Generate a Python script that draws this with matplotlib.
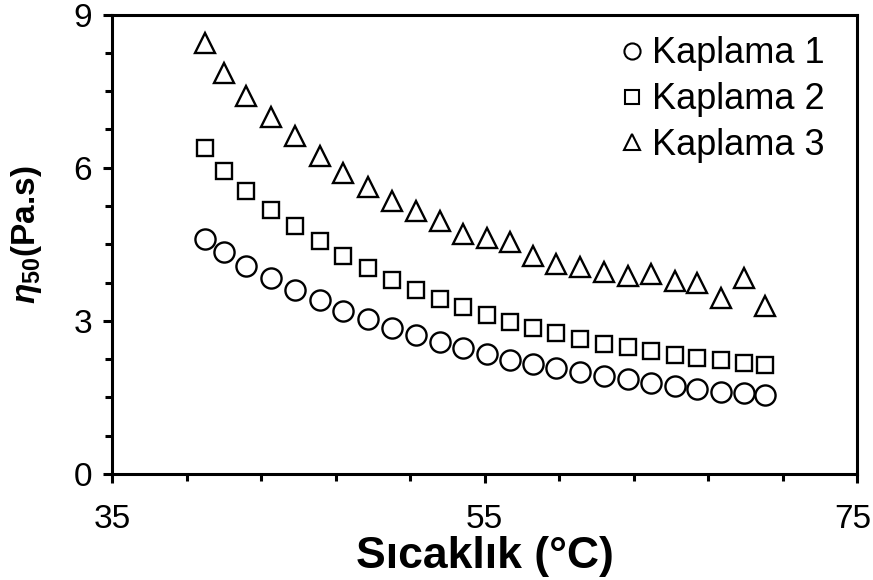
import matplotlib
matplotlib.use("Agg")
import matplotlib.pyplot as plt
from matplotlib.ticker import FixedLocator, MultipleLocator
from matplotlib.lines import Line2D
from matplotlib.transforms import ScaledTranslation

plt.rcParams["font.family"] = ["Liberation Sans", "DejaVu Sans"]
plt.rcParams["mathtext.fontset"] = "custom"
plt.rcParams["mathtext.it"] = "Liberation Sans:italic:bold"
plt.rcParams["mathtext.rm"] = "Liberation Sans:bold"

# Temperature (°C)
temperature = [40.0, 41.0, 42.2, 43.5, 44.8, 46.15, 47.4, 48.75, 50.0, 51.3,
               52.6, 53.85, 55.1, 56.35, 57.6, 58.85, 60.1, 61.4, 62.7, 63.9,
               65.2, 66.4, 67.7, 68.9, 70.05]

# Viscosity eta_50 (Pa.s) for each coating
kaplama_1 = [4.60, 4.34, 4.07, 3.84, 3.61, 3.40, 3.20, 3.03, 2.87, 2.73,
             2.59, 2.46, 2.35, 2.23, 2.15, 2.07, 1.99, 1.92, 1.86, 1.79,
             1.72, 1.66, 1.61, 1.58, 1.54]
kaplama_2 = [6.38, 5.93, 5.54, 5.18, 4.85, 4.56, 4.27, 4.04, 3.80, 3.61,
             3.42, 3.27, 3.12, 2.98, 2.86, 2.76, 2.64, 2.55, 2.48, 2.40,
             2.34, 2.28, 2.23, 2.18, 2.14]
kaplama_3 = [8.44, 7.85, 7.40, 6.99, 6.62, 6.24, 5.90, 5.62, 5.35, 5.16,
             4.95, 4.71, 4.62, 4.54, 4.28, 4.12, 4.05, 3.96, 3.87, 3.91,
             3.79, 3.74, 3.45, 3.84, 3.29]

series_labels = ["Kaplama 1", "Kaplama 2", "Kaplama 3"]
x_ticks = [35, 55, 75]
x_minor = [39, 43, 47, 51, 59, 63, 67, 71]
y_ticks = [0, 3, 6, 9]

fig = plt.figure(figsize=(8.73, 5.80), dpi=100)
ax = fig.add_axes([0.1286, 0.1828, 0.982 - 0.1286, 0.9747 - 0.1828])

styles = [("o", 14.5), ("s", 12.2), ("^", 14.0)]
for y, (m, ms) in zip([kaplama_1, kaplama_2, kaplama_3], styles):
    ax.plot(temperature, y, linestyle="none", marker=m, markersize=ms,
            markerfacecolor="white", markeredgecolor="black",
            markeredgewidth=1.7)

ax.set_xlim(35, 75)
ax.set_ylim(0, 9)
ax.set_xticks(x_ticks)
ax.set_yticks(y_ticks)
ax.xaxis.set_minor_locator(FixedLocator(x_minor))
ax.yaxis.set_minor_locator(MultipleLocator(0.75))
ax.tick_params(which="major", direction="out", length=6.5, width=2.2,
               labelsize=24)
ax.tick_params(axis="x", which="major", pad=15)
ax.tick_params(axis="y", which="major", pad=8)
ax.tick_params(which="minor", direction="out", length=5, width=2.2)
for s in ax.spines.values():
    s.set_linewidth(2.2)

# keep the last x tick label inside the canvas
fig.canvas.draw()
last = ax.get_xticklabels()[-1]
last.set_transform(last.get_transform()
                   + ScaledTranslation(-4 / 100, 0, fig.dpi_scale_trans))

ax.set_xlabel("Sıcaklık (°C)", fontsize=32, fontweight="bold", labelpad=1)
ax.set_ylabel(r"$\mathit{\eta_{50}}$(Pa.s)", fontsize=24, fontweight="bold")
ax.yaxis.set_label_coords(-0.092, 0.52)

handles = [Line2D([], [], linestyle="none", marker=m, markersize=ms * 0.8,
                  markerfacecolor="white", markeredgecolor="black",
                  markeredgewidth=1.5)
           for (m, ms) in styles]
ax.legend(handles, series_labels, loc="upper right", frameon=False,
          fontsize=26, handlelength=0.6, handletextpad=0.25,
          labelspacing=0.3, borderaxespad=0.2, bbox_to_anchor=(0.985, 1.0))

fig.savefig("out.png", dpi=100)
